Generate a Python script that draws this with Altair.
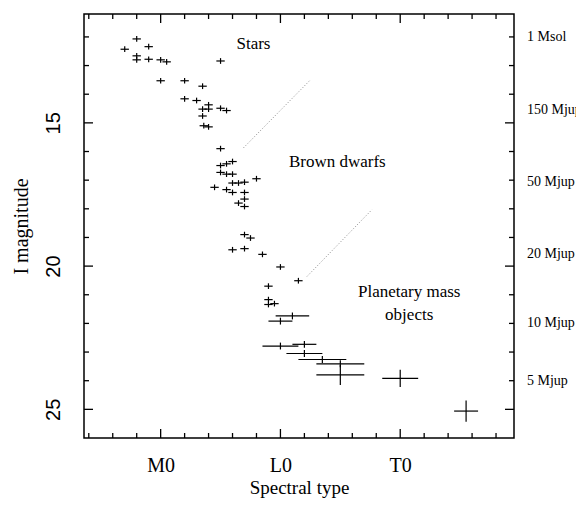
import altair as alt
import pandas as pd

# ---- data ----
spt = [-2, -3, -1, -2, -2, -1, 0, 0.5, 5, 0, 2, 3.5, 2, 3, 4, 3.5, 4, 5, 5.5, 3.5,
       3.6, 4, 5, 6, 5.5, 5, 5, 5.5, 6, 8, 7, 6.5, 6, 4.5, 5.5, 6, 7, 7, 6.5, 7,
       7, 7.5, 6, 7, 8.5, 10, 11.5, 9, 9, 9, 9.5, 11, 10, 10, 12, 12, 13.5, 15, 15, 20, 25.5]
imag = [12.07, 12.43, 12.34, 12.66, 12.80, 12.78, 12.80, 12.87, 12.84, 13.53,
        13.53, 13.72, 14.16, 14.22, 14.37, 14.52, 14.52, 14.49, 14.57, 14.76,
        15.10, 15.14, 15.90, 16.35, 16.43, 16.49, 16.73, 16.79, 16.79, 16.95,
        17.07, 17.10, 17.10, 17.25, 17.33, 17.43, 17.43, 17.66, 17.80, 17.92,
        18.90, 19.02, 19.43, 19.39, 19.59, 20.03, 20.51, 20.70, 21.17, 21.34,
        21.31, 21.74, 21.92, 22.79, 22.73, 23.05, 23.26, 23.41, 23.80, 23.92, 25.06]
xerr = [0.35, 0.35, 0.35, 0.35, 0.35, 0.35, 0.35, 0.35, 0.35, 0.35,
        0.35, 0.35, 0.35, 0.35, 0.35, 0.35, 0.35, 0.35, 0.35, 0.35,
        0.35, 0.35, 0.35, 0.35, 0.35, 0.35, 0.35, 0.35, 0.35, 0.35,
        0.35, 0.35, 0.35, 0.35, 0.35, 0.35, 0.35, 0.35, 0.35, 0.35,
        0.35, 0.35, 0.35, 0.35, 0.35, 0.35, 0.35, 0.35, 0.35, 0.35,
        0.35, 1.4, 1.0, 1.5, 1.0, 1.5, 2.0, 2.0, 2.0, 1.5, 1.0]
yerr = [0.1, 0.1, 0.1, 0.1, 0.1, 0.1, 0.1, 0.1, 0.1, 0.1,
        0.1, 0.1, 0.1, 0.1, 0.1, 0.1, 0.1, 0.1, 0.1, 0.1,
        0.1, 0.1, 0.1, 0.1, 0.1, 0.1, 0.1, 0.1, 0.1, 0.1,
        0.1, 0.1, 0.1, 0.1, 0.1, 0.1, 0.1, 0.1, 0.1, 0.1,
        0.1, 0.1, 0.1, 0.1, 0.1, 0.1, 0.1, 0.1, 0.1, 0.1,
        0.1, 0.12, 0.12, 0.12, 0.12, 0.12, 0.12, 0.12, 0.35, 0.3, 0.37]

x_tick_values = [0, 10, 20]
x_tick_labels = ["M0", "L0", "T0"]
x_minor = [-6, -4, -2, 2, 4, 6, 8, 12, 14, 16, 18, 22, 24, 26, 28]
y_tick_values = [15, 20, 25]
y_minor = [12, 13, 14, 16, 17, 18, 19, 21, 22, 23, 24]

mass_labels = ["1 Msol", "150 Mjup", "50 Mjup", "20 Mjup", "10 Mjup", "5 Mjup"]
mass_mag = [12.0, 14.55, 17.07, 19.56, 21.98, 24.0]

ann_text = ["Stars", "Brown dwarfs", "Planetary mass", "objects"]
ann_x = [7.75, 14.75, 20.75, 20.75]
ann_y = [12.26, 16.38, 20.92, 21.72]

guide_id = ["a", "a", "b", "b"]
guide_x = [6.92, 12.5, 12.22, 17.64]
guide_y = [15.87, 13.5, 20.36, 18.03]

# ---- build ----
W, H = 430, 424
SERIF = "Liberation Serif"
SANS = "Liberation Sans"

df = pd.DataFrame({"spt": spt, "mag": imag, "xerr": xerr, "yerr": yerr})
df["x0"] = df.spt - df.xerr
df["x1"] = df.spt + df.xerr
df["y0"] = df.mag - df.yerr
df["y1"] = df.mag + df.yerr

xs = alt.Scale(domain=[-6.4, 29.5], nice=False, zero=False)
ys = alt.Scale(domain=[11.2, 26.0], reverse=True, nice=False, zero=False)

lab_expr = " : ".join(
    f"datum.value == {v} ? '{t}'" for v, t in zip(x_tick_values, x_tick_labels)
) + " : ''"

xaxis = alt.Axis(values=x_tick_values, labelExpr=lab_expr, ticks=False, domain=False,
                 grid=False, labelFont=SERIF, labelFontSize=20, labelPadding=17,
                 titleFont=SERIF, titleFontSize=19, titleFontWeight="normal",
                 titlePadding=3, labelColor="black", titleColor="black")
yaxis = alt.Axis(values=y_tick_values, ticks=False, domain=False, grid=False,
                 labelAngle=-90, labelAlign="center", labelBaseline="bottom",
                 labelFont=SANS, labelFontSize=20, labelPadding=21,
                 titleFont=SERIF, titleFontSize=20, titleFontWeight="normal",
                 titlePadding=12, labelColor="black", titleColor="black")

hbar = alt.Chart(df).mark_rule(color="black", strokeWidth=1.2).encode(
    x=alt.X("x0:Q", scale=xs, axis=xaxis, title="Spectral type"),
    x2="x1:Q",
    y=alt.Y("mag:Q", scale=ys, axis=yaxis, title="I magnitude"),
)
vbar = alt.Chart(df).mark_rule(color="black", strokeWidth=1.2).encode(
    x=alt.X("spt:Q", scale=xs),
    y=alt.Y("y0:Q", scale=ys),
    y2="y1:Q",
)

xmaj = pd.DataFrame({"v": x_tick_values})
xmin = pd.DataFrame({"v": x_minor})
ymaj = pd.DataFrame({"v": y_tick_values})
ymin = pd.DataFrame({"v": y_minor})

def xticks(d, ln):
    b = alt.Chart(d).mark_rule(color="black", strokeWidth=1.3).encode(
        x=alt.X("v:Q", scale=xs), y=alt.value(H), y2=alt.value(H - ln))
    t = alt.Chart(d).mark_rule(color="black", strokeWidth=1.3).encode(
        x=alt.X("v:Q", scale=xs), y=alt.value(0), y2=alt.value(ln))
    return b + t

def yticks(d, ln):
    l = alt.Chart(d).mark_rule(color="black", strokeWidth=1.3).encode(
        y=alt.Y("v:Q", scale=ys), x=alt.value(0), x2=alt.value(ln))
    r = alt.Chart(d).mark_rule(color="black", strokeWidth=1.3).encode(
        y=alt.Y("v:Q", scale=ys), x=alt.value(W), x2=alt.value(W - ln))
    return l + r

mass = alt.Chart(pd.DataFrame({"t": mass_labels, "m": mass_mag})).mark_text(
    align="left", baseline="middle", font=SERIF, fontSize=14, color="black"
).encode(x=alt.value(W + 13), y=alt.Y("m:Q", scale=ys), text="t:N")

ann = alt.Chart(pd.DataFrame({"t": ann_text, "x": ann_x, "y": ann_y})).mark_text(
    align="center", baseline="middle", font=SERIF, fontSize=17, color="black"
).encode(x=alt.X("x:Q", scale=xs), y=alt.Y("y:Q", scale=ys), text="t:N")

guides = alt.Chart(pd.DataFrame({"g": guide_id, "x": guide_x, "y": guide_y})).mark_line(
    color="#888888", strokeWidth=1, strokeDash=[1, 2]
).encode(x=alt.X("x:Q", scale=xs), y=alt.Y("y:Q", scale=ys), detail="g:N")

chart = alt.layer(
    hbar, vbar, guides, ann, mass,
    xticks(xmaj, 9), xticks(xmin, 5), yticks(ymaj, 9), yticks(ymin, 5),
).properties(
    width=W, height=H,
    autosize=alt.AutoSizeParams(type="none"),
    padding={"left": 76, "top": 6, "right": 62, "bottom": 60},
    background="white",
).configure_view(stroke="black", strokeWidth=1.5)

chart.save("out.html", embed_options={"renderer": "svg", "actions": False})
